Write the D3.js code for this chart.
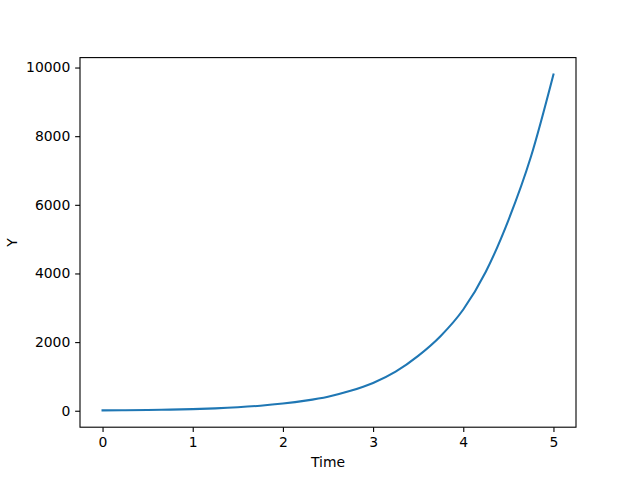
<!DOCTYPE html>
<html>
<head>
<meta charset="utf-8">
<script src="https://cdn.jsdelivr.net/npm/d3@7"></script>
<style>
  body { margin: 0; background: #fff; }
  svg text { font-family: "DejaVu Sans", sans-serif; fill: #000; }
</style>
</head>
<body>
<svg id="chart" width="640" height="480"></svg>
<script>
// values
const times = [0, 0.25, 0.5, 0.75, 1, 1.25, 1.5, 1.75, 2, 2.25, 2.5, 2.75, 3, 3.25, 3.5, 3.75, 4, 4.25, 4.5, 4.75, 5];
const yValues = [10, 15, 22, 33, 48, 70, 102, 147, 210, 295, 410, 580, 810, 1140, 1600, 2180, 2950, 4050, 5550, 7400, 9800];
const xTicks = [0, 1, 2, 3, 4, 5];
const yTicks = [0, 2000, 4000, 6000, 8000, 10000];

const svg = d3.select('#chart');
const plotLeft = 80, plotRight = 576, plotTop = 57.6, plotBottom = 427.2;

// matplotlib style 5% margins
const xMin = d3.min(times), xMax = d3.max(times);
const yMin = d3.min(yValues), yMax = d3.max(yValues);
const xPad = (xMax - xMin) * 0.05, yPad = (yMax - yMin) * 0.05;

const x = d3.scaleLinear().domain([xMin - xPad, xMax + xPad]).range([plotLeft, plotRight]);
const y = d3.scaleLinear().domain([yMin - yPad, yMax + yPad]).range([plotBottom, plotTop]);

const tickLen = 4.86, fontPx = 13.9;

const xAxis = svg.append('g')
    .attr('transform', `translate(0,${plotBottom})`)
    .call(d3.axisBottom(x).tickValues(xTicks).tickFormat(d3.format('d')).tickSizeInner(tickLen).tickSizeOuter(0).tickPadding(4.9));
const yAxis = svg.append('g')
    .attr('transform', `translate(${plotLeft},0)`)
    .call(d3.axisLeft(y).tickValues(yTicks).tickFormat(d3.format('d')).tickSizeInner(tickLen).tickSizeOuter(0).tickPadding(4.9));

[xAxis, yAxis].forEach(g => {
    g.select('.domain').remove();
    g.selectAll('.tick line').attr('stroke', '#000').attr('stroke-width', 1.1);
    g.selectAll('.tick text').attr('font-size', fontPx).attr('font-family', 'DejaVu Sans');
});

// frame
svg.append('rect')
    .attr('x', plotLeft).attr('y', plotTop)
    .attr('width', plotRight - plotLeft).attr('height', plotBottom - plotTop)
    .attr('fill', 'none').attr('stroke', '#000').attr('stroke-width', 1.1);

const line = d3.line()
    .x((d, i) => x(times[i]))
    .y(d => y(d))
    .curve(d3.curveMonotoneX);

svg.append('path')
    .datum(yValues)
    .attr('d', line)
    .attr('fill', 'none')
    .attr('stroke', '#1f77b4')
    .attr('stroke-width', 2.08)
    .attr('stroke-linecap', 'square');

svg.append('text')
    .attr('x', (plotLeft + plotRight) / 2).attr('y', 467)
    .attr('text-anchor', 'middle')
    .attr('font-size', fontPx)
    .text('Time');

svg.append('text')
    .attr('transform', `translate(17,${(plotTop + plotBottom) / 2}) rotate(-90)`)
    .attr('text-anchor', 'middle')
    .attr('font-size', fontPx)
    .text('Y');
</script>
</body>
</html>
